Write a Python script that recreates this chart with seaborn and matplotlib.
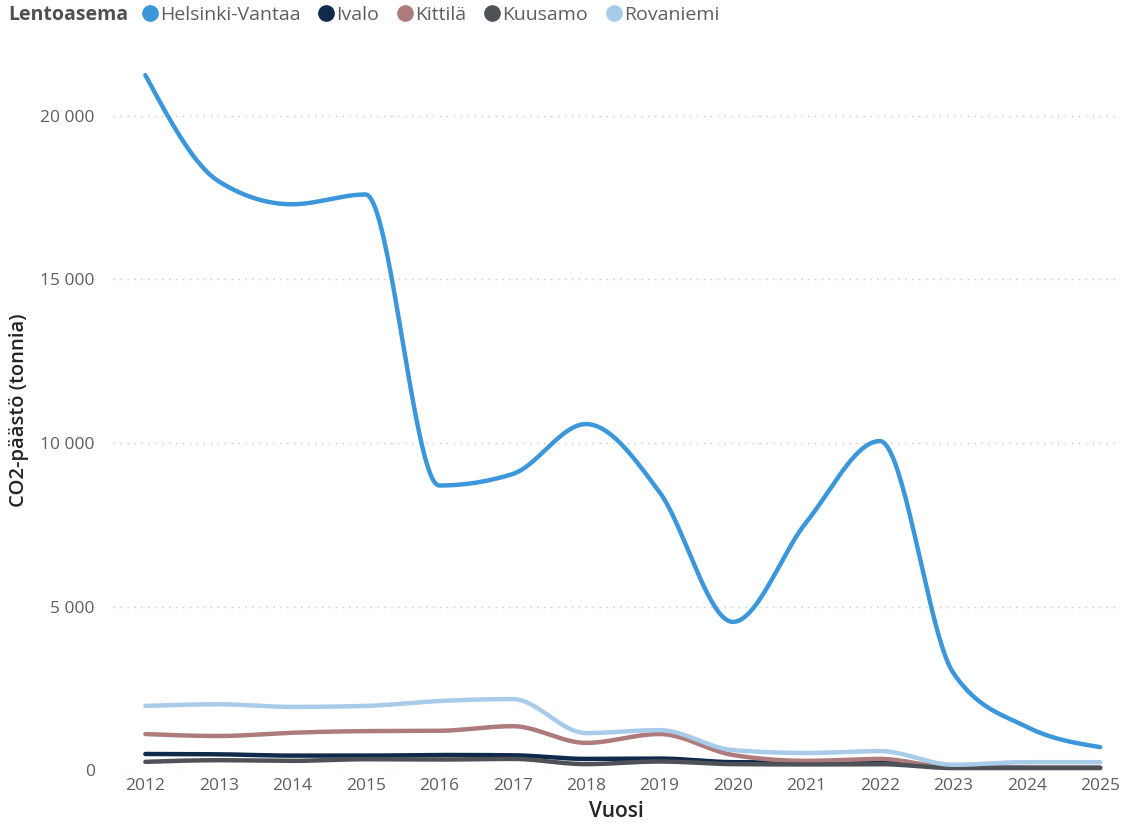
import numpy as np
import pandas as pd
import seaborn as sns
import matplotlib.pyplot as plt
from matplotlib.lines import Line2D
from matplotlib.ticker import FuncFormatter

# vuosittaiset CO2-päästöt (tonnia) lentoasemittain
vuodet = [2012, 2013, 2014, 2015, 2016, 2017, 2018, 2019, 2020, 2021, 2022, 2023, 2024, 2025]
helsinki = [21250, 18000, 17300, 17600, 8700, 9050, 10580, 8500, 4530, 7580, 10060, 2970, 1320, 700]
ivalo = [490, 480, 440, 440, 460, 450, 340, 350, 240, 230, 250, 90, 70, 70]
kittila = [1100, 1040, 1140, 1190, 1200, 1340, 830, 1100, 460, 280, 340, 70, 70, 70]
kuusamo = [250, 300, 280, 330, 320, 340, 180, 260, 180, 170, 180, 60, 60, 60]
rovaniemi = [1960, 2010, 1930, 1960, 2110, 2170, 1130, 1220, 610, 520, 580, 160, 240, 240]

asemat = ["Helsinki-Vantaa", "Ivalo", "Kittilä", "Kuusamo", "Rovaniemi"]
sarjat = [helsinki, ivalo, kittila, kuusamo, rovaniemi]
varit = ["#3C97DA", "#0F2A4A", "#AE7B7D", "#4E5257", "#A9CBEA"]


def monotone(x, y, n=40):
    # d3 curveMonotoneX -tyylinen tasoitus piirtoa varten
    x = np.asarray(x, float); y = np.asarray(y, float)
    h = np.diff(x); s = np.diff(y) / h
    t = np.zeros_like(y)
    for i in range(1, len(y) - 1):
        p = (s[i - 1] * h[i] + s[i] * h[i - 1]) / (h[i - 1] + h[i])
        t[i] = (np.sign(s[i - 1]) + np.sign(s[i])) * min(abs(s[i - 1]), abs(s[i]), 0.5 * abs(p))
    t[0] = (3 * s[0] - t[1]) / 2
    t[-1] = (3 * s[-1] - t[-2]) / 2
    xs, ys = [], []
    for i in range(len(h)):
        u = np.linspace(0, 1, n, endpoint=(i == len(h) - 1))
        h00 = 2 * u**3 - 3 * u**2 + 1; h10 = u**3 - 2 * u**2 + u
        h01 = -2 * u**3 + 3 * u**2; h11 = u**3 - u**2
        xs.append(x[i] + u * h[i])
        ys.append(h00 * y[i] + h10 * h[i] * t[i] + h01 * y[i + 1] + h11 * h[i] * t[i + 1])
    return np.concatenate(xs), np.concatenate(ys)


rows = []
for nimi, arvot in zip(asemat, sarjat):
    xs, ys = monotone(vuodet, arvot)
    rows.append(pd.DataFrame({"Vuosi": xs, "CO2": ys, "Lentoasema": nimi}))
df = pd.concat(rows, ignore_index=True)

sns.set_theme(style="white")
plt.rcParams["font.family"] = ["Open Sans", "DejaVu Sans"]

fig = plt.figure(figsize=(11.28, 8.32), dpi=100)
ax = fig.add_axes([0.1002, 0.0745, 0.8927, 0.8647])

sns.lineplot(data=df, x="Vuosi", y="CO2", hue="Lentoasema", hue_order=asemat,
             palette=dict(zip(asemat, varit)), linewidth=3.2, legend=False,
             estimator=None, sort=False, ax=ax, clip_on=False,
             solid_capstyle="round")

ax.set_xlim(2011.56, 2025.27)
ax.set_ylim(0, 22000)
ax.set_xticks(vuodet)
ax.set_yticks([0, 5000, 10000, 15000, 20000])
ax.yaxis.set_major_formatter(FuncFormatter(lambda v, p: f"{int(v):,}".replace(",", " ")))
ax.grid(axis="y", color="#C8C6C4", linestyle=(0, (1, 4)), linewidth=1)
ax.set_axisbelow(True)
for s in ax.spines.values():
    s.set_visible(False)
ax.tick_params(axis="both", length=0, labelsize=12.5, labelcolor="#605E5C")
ax.tick_params(axis="y", pad=13)
ax.tick_params(axis="x", pad=6)
ax.set_xlabel("Vuosi", fontsize=15, color="#252423", fontweight="semibold", labelpad=5)
ax.set_ylabel("CO2-päästö (tonnia)", fontsize=14.5, color="#252423", fontweight="semibold", labelpad=8)

fig.text(0.007, 0.982, "Lentoasema", fontsize=14, fontweight="bold", color="#505050", va="center")
kahvat = [Line2D([], [], marker="o", linestyle="", markersize=11, color=c) for c in varit]
fig.legend(kahvat, asemat, loc="center left", bbox_to_anchor=(0.128, 0.982), ncol=5,
           frameon=False, handlelength=0.55, handletextpad=0.25, columnspacing=1.05,
           borderaxespad=0, borderpad=0, prop={"size": 14}, labelcolor="#605E5C")

fig.savefig("out.png", dpi=100)
